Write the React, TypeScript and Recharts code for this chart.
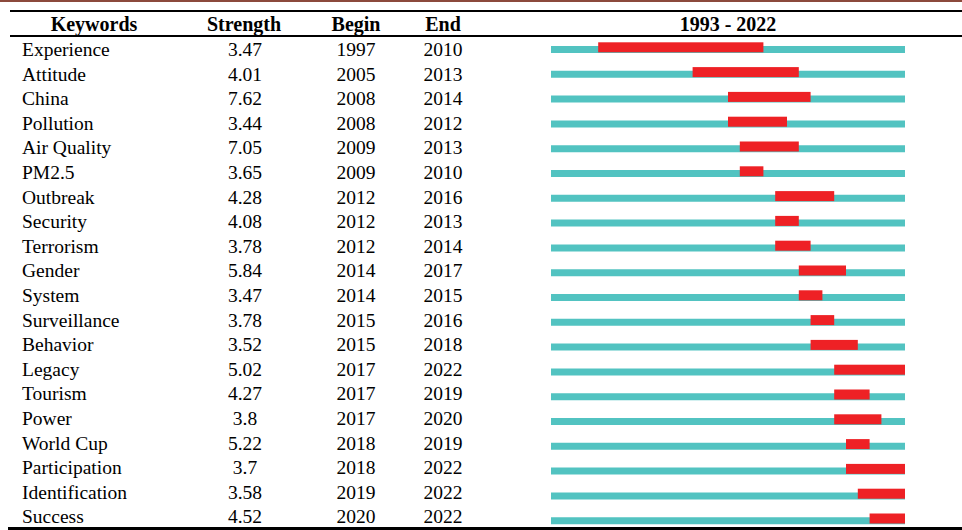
import React from 'react';
import { BarChart, Bar, XAxis, YAxis } from 'recharts';

const keywords = [
  'Experience', 'Attitude', 'China', 'Pollution', 'Air Quality', 'PM2.5', 'Outbreak', 'Security',
  'Terrorism', 'Gender', 'System', 'Surveillance', 'Behavior', 'Legacy', 'Tourism', 'Power',
  'World Cup', 'Participation', 'Identification', 'Success',
];
const strengths = [3.47, 4.01, 7.62, 3.44, 7.05, 3.65, 4.28, 4.08, 3.78, 5.84, 3.47, 3.78, 3.52, 5.02, 4.27, 3.8, 5.22, 3.7, 3.58, 4.52];
const begins = [1997, 2005, 2008, 2008, 2009, 2009, 2012, 2012, 2012, 2014, 2014, 2015, 2015, 2017, 2017, 2017, 2018, 2018, 2019, 2020];
const ends = [2010, 2013, 2014, 2012, 2013, 2010, 2016, 2013, 2014, 2017, 2015, 2016, 2018, 2022, 2019, 2020, 2019, 2022, 2022, 2022];
const firstYear = 1993;
const lastYear = 2022;
const headers = ['Keywords', 'Strength', 'Begin', 'End', `${firstYear} - ${lastYear}`];

const FONT = "'Liberation Serif', 'Times New Roman', serif";
const TEAL = '#52c3c1';
const RED = '#ee2125';

const data = keywords.map((k, i) => ({
  keyword: k,
  strength: strengths[i],
  begin: begins[i],
  end: ends[i],
  span: [firstYear, lastYear + 1],
  burst: [begins[i], ends[i] + 1],
}));

// the four text columns live in the y axis tick
const RowTick = ({ y, payload, index }: any) => {
  const i = typeof index === 'number' ? index : keywords.indexOf(payload.value);
  const d = data[i];
  // text rows sit a touch tighter than the bar rows in the source table
  const ty = y + 6.5 - i * 0.2;
  const common = { fontFamily: FONT, fontSize: 19.5, fill: '#000' };
  return (
    <g>
      <text x={22} y={ty} {...common}>{d.keyword}</text>
      <text x={245} y={ty} textAnchor="middle" {...common}>{String(d.strength)}</text>
      <text x={356} y={ty} textAnchor="middle" {...common}>{d.begin}</text>
      <text x={443} y={ty} textAnchor="middle" {...common}>{d.end}</text>
    </g>
  );
};

const BurstShape = (props: any) => {
  const { x, y, width, height } = props;
  return <rect x={x} y={y - 1.7} width={width} height={height} fill={RED} />;
};

const headerCenters = [94, 244, 356, 443, 728];

const rule = (top: number, left: number, h: number, color = '#000') => (
  <div style={{ position: 'absolute', top, left, right: 0, height: h, background: color }} />
);

export default function App() {
  return (
    <div style={{ position: 'relative', width: 962, height: 530, overflow: 'hidden', background: '#fff' }}>
      <style>{'body{margin:0}'}</style>
      {rule(0, 0, 1.5, '#8c4a3c')}
      {rule(10, 10, 2)}
      {rule(35, 10, 2)}
      {rule(527, 8, 3)}
      {headers.map((h, i) => (
        <div
          key={h}
          style={{
            position: 'absolute', top: 12, height: 23, lineHeight: '24px', left: headerCenters[i] - 80, width: 160,
            textAlign: 'center', fontFamily: FONT, fontWeight: 'bold', fontSize: 20, color: '#000',
          }}
        >
          {h}
        </div>
      ))}
      <div style={{ position: 'absolute', top: 0, left: 0 }}>
        <BarChart
          width={962}
          height={534}
          data={data}
          layout="vertical"
          margin={{ top: 37, right: 57, bottom: 1, left: 0 }}
        >
          <XAxis type="number" domain={[firstYear, lastYear + 1]} hide allowDataOverflow />
          <YAxis
            yAxisId="bg"
            type="category"
            dataKey="keyword"
            width={551}
            interval={0}
            axisLine={false}
            tickLine={false}
            tick={<RowTick />}
          />
          <YAxis yAxisId="fg" type="category" dataKey="keyword" hide />
          <Bar yAxisId="bg" dataKey="span" barSize={7} fill={TEAL} isAnimationActive={false} />
          <Bar yAxisId="fg" dataKey="burst" barSize={10} fill={RED} shape={<BurstShape />} isAnimationActive={false} />
        </BarChart>
      </div>
    </div>
  );
}
